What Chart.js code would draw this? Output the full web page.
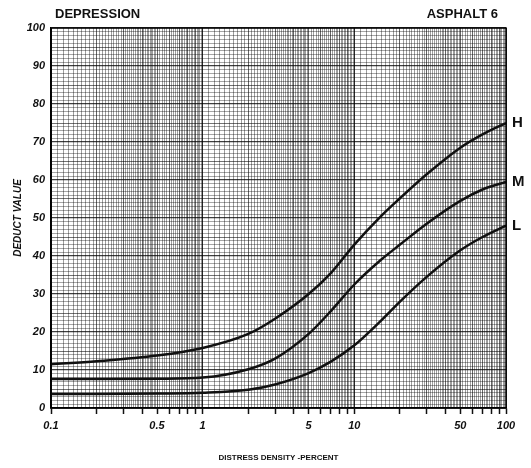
<!DOCTYPE html>
<html lang="en">
<head>
<meta charset="UTF-8">
<title>Depression - Asphalt 6</title>
<script src="https://cdn.jsdelivr.net/npm/chart.js"></script>
<style>
  body { margin: 0; background: #fff; }
</style>
</head>
<body>
<canvas id="deductChart" width="531" height="468"></canvas>
<script>
// distress density (%) and deduct values
const densities = [0.1, 0.2, 0.5, 1, 2, 3, 5, 7, 10, 15, 20, 30, 50, 70, 100];
const highValues = [11.5, 12.3, 13.8, 15.8, 19.5, 23.5, 30, 35.5, 43, 50.5, 55.2, 61.5, 68.5, 72, 75];
const mediumValues = [7.6, 7.6, 7.7, 8, 10.2, 13, 19.5, 25.5, 32.5, 39, 43, 48.5, 54.5, 57.5, 59.5];
const lowValues = [3.7, 3.7, 3.8, 4, 4.8, 6.2, 9.2, 12.2, 16.5, 23, 28, 34.5, 41.5, 45, 48];
const severities = ['H', 'M', 'L'];
const xTickLabels = [0.1, 0.5, 1, 5, 10, 50, 100];
const yTickLabels = [0, 10, 20, 30, 40, 50, 60, 70, 80, 90, 100];

const font = 'Liberation Sans, Arial, sans-serif';

// semi-log paper: fine vertical lines in each decade
function paperLines() {
  const out = [];
  [0.1, 1, 10].forEach(d => {
    for (let k = 10; k < 20; k += 1) out.push(d * k / 10);
    for (let k = 20; k < 50; k += 1) out.push(d * k / 10);
    for (let k = 50; k < 100; k += 2) out.push(d * k / 10);
  });
  out.push(100);
  return out;
}

function tickMarks() {
  const out = [];
  [0.1, 1, 10].forEach(d => {
    for (let k = 1; k < 10; k++) out.push(d * k);
  });
  out.push(100);
  return out;
}

function near(a, b) { return Math.abs(a - b) < 1e-6 * Math.max(1, b); }

function lineStyle(v) {
  if ([0.1, 1, 10, 100].some(d => near(v, d))) return 'rgba(0,0,0,0.85)';
  const dec = Math.pow(10, Math.floor(Math.log10(v) + 1e-9));
  const m = v / dec;
  if (near(m, Math.round(m))) return 'rgba(0,0,0,0.6)';
  return 'rgba(0,0,0,0.38)';
}

const curves = [highValues, mediumValues, lowValues];

const ctx = document.getElementById('deductChart').getContext('2d');

new Chart(ctx, {
  type: 'line',
  data: {
    datasets: curves.map((vals, i) => ({
      label: severities[i],
      data: densities.map((d, j) => ({ x: d, y: vals[j] })),
      borderColor: '#111',
      borderWidth: 2.5,
      pointRadius: 0,
      cubicInterpolationMode: 'monotone',
      fill: false,
      xAxisID: 'x',
      yAxisID: 'y'
    }))
  },
  plugins: [{
    id: 'paperText',
    afterDraw(chart) {
      const c = chart.ctx;
      const a = chart.chartArea;
      c.save();
      c.strokeStyle = '#000';
      c.lineWidth = 1.5;
      c.strokeRect(a.left, a.top, a.right - a.left, a.bottom - a.top);

      c.fillStyle = '#111';
      c.font = 'bold 13px ' + font;
      c.textBaseline = 'middle';
      c.textAlign = 'left';
      c.fillText('DEPRESSION', 55, 14);
      c.textAlign = 'right';
      c.fillText('ASPHALT 6', 498, 14);

      // severity letters at the end of each curve
      c.font = 'bold 15px ' + font;
      c.textAlign = 'left';
      chart.data.datasets.forEach((ds, i) => {
        const last = ds.data[ds.data.length - 1];
        const y = chart.scales.y.getPixelForValue(last.y);
        c.fillText(severities[i], a.right + 6, y);
      });
      c.restore();
    }
  }],
  options: {
    responsive: false,
    animation: false,
    layout: { padding: { top: 28, right: 25, left: 0, bottom: 0 } },
    plugins: {
      legend: { display: false },
      tooltip: { enabled: false }
    },
    scales: {
      x: {
        type: 'logarithmic',
        position: 'bottom',
        min: 0.1,
        max: 100,
        afterBuildTicks: axis => { axis.ticks = paperLines().map(v => ({ value: v })); },
        ticks: { display: false },
        border: { display: false },
        grid: {
          drawTicks: false,
          color: c => lineStyle(c.tick.value),
          lineWidth: 1
        }
      },
      xt: {
        type: 'logarithmic',
        position: 'bottom',
        min: 0.1,
        max: 100,
        afterBuildTicks: axis => { axis.ticks = tickMarks().map(v => ({ value: v })); },
        afterFit: axis => { axis.height = 60; },
        border: { display: true, color: '#000', width: 1.5 },
        grid: {
          drawOnChartArea: false,
          drawTicks: true,
          tickLength: 6,
          tickColor: '#111',
          tickWidth: 1.5
        },
        ticks: {
          autoSkip: false,
          maxRotation: 0,
          padding: 5,
          color: '#111',
          font: { family: font, size: 11, weight: 'bold', style: 'italic' },
          callback: v => xTickLabels.some(t => near(v, t)) ? String(v) : ''
        },
        title: {
          display: true,
          text: 'DISTRESS DENSITY -PERCENT',
          color: '#111',
          font: { family: font, size: 8, weight: 'bold' },
          padding: { top: 0, bottom: 5 }
        }
      },
      y: {
        type: 'linear',
        min: 0,
        max: 100,
        afterFit: axis => { axis.width = 51; },
        border: { display: true, color: '#000', width: 1.5 },
        grid: {
          drawTicks: false,
          color: c => c.tick.value % 10 === 0 ? 'rgba(0,0,0,0.75)'
            : c.tick.value % 5 === 0 ? 'rgba(0,0,0,0.55)' : 'rgba(0,0,0,0.35)',
          lineWidth: c => c.tick.value % 10 === 0 ? 1.3 : 1
        },
        ticks: {
          stepSize: 1,
          autoSkip: false,
          padding: 6,
          color: '#111',
          font: { family: font, size: 11, weight: 'bold', style: 'italic' },
          callback: v => yTickLabels.includes(v) ? String(v) : ''
        },
        title: {
          display: true,
          text: 'DEDUCT VALUE',
          color: '#111',
          font: { family: font, size: 10, weight: 'bold', style: 'italic' },
          padding: { top: 12, bottom: 0 }
        }
      }
    }
  }
});
</script>
</body>
</html>
